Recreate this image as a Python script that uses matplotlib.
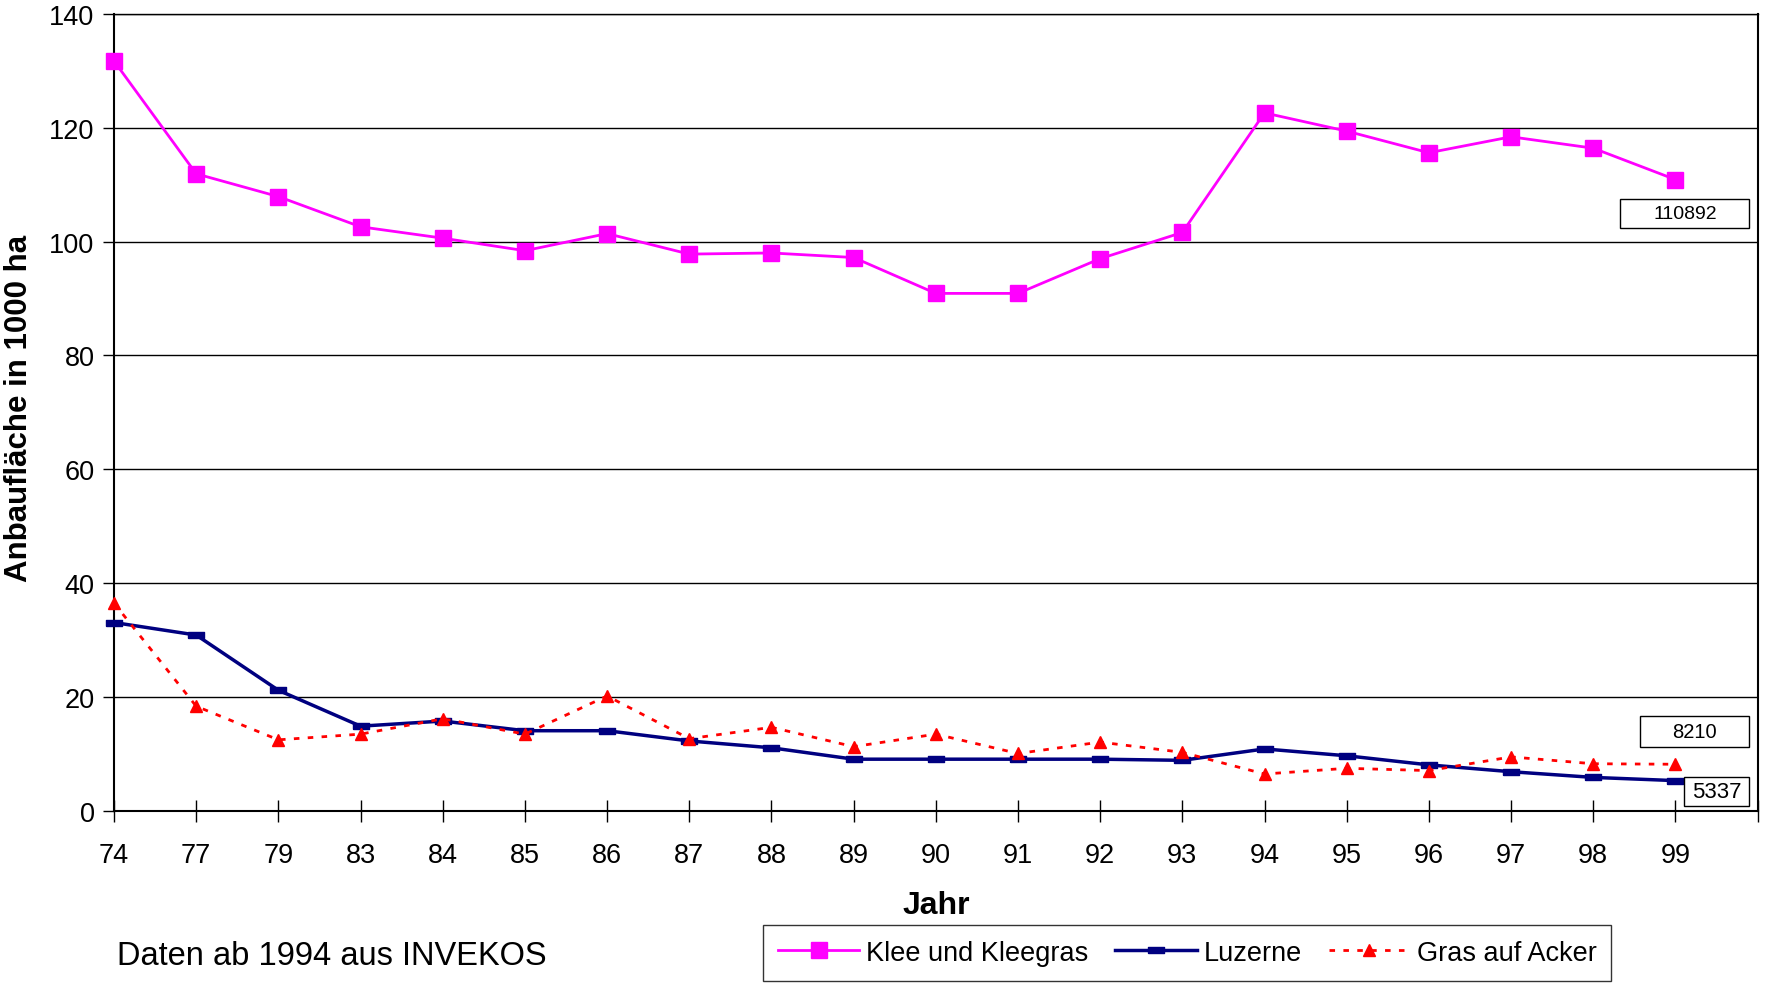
import matplotlib.pyplot as plt
from matplotlib.patches import Rectangle

plt.rcParams['font.family'] = ['Liberation Sans', 'DejaVu Sans']

jahre = ['74', '77', '79', '83', '84', '85', '86', '87', '88', '89',
         '90', '91', '92', '93', '94', '95', '96', '97', '98', '99']
klee = [131.7, 111.9, 107.9, 102.6, 100.6, 98.4, 101.4, 97.8, 98.0, 97.2,
        90.9, 90.9, 97.0, 101.6, 122.6, 119.4, 115.6, 118.4, 116.4, 110.892]
luzerne = [33.1, 30.9, 21.2, 14.9, 15.8, 14.1, 14.1, 12.3, 11.1, 9.1,
           9.1, 9.1, 9.1, 8.9, 10.9, 9.7, 8.1, 6.9, 5.9, 5.337]
gras = [36.5, 18.4, 12.5, 13.5, 16.2, 13.5, 20.2, 12.7, 14.7, 11.3,
        13.5, 10.1, 12.1, 10.3, 6.5, 7.5, 7.1, 9.5, 8.3, 8.21]

x = list(range(len(jahre)))

fig = plt.figure(figsize=(17.68, 9.87), dpi=100)
ax = fig.add_axes([0.0645, 0.1773, 0.9296, 0.8077])

# wide flat marker for Luzerne
dash = [(-1, -0.4), (1, -0.4), (1, 0.4), (-1, 0.4), (-1, -0.4)]

ax.plot(x, klee, color='#FF00FF', lw=2, marker='s', ms=11.5,
        label='Klee und Kleegras', zorder=4, clip_on=False)
ax.plot(x, luzerne, color='#000080', lw=2.5, marker=dash, ms=11,
        label='Luzerne', zorder=3, clip_on=False)
ax.plot(x, gras, color='#FF0000', lw=2, ls=(0, (2, 3)), marker='^', ms=9,
        label='Gras auf Acker', zorder=3, clip_on=False)

ax.set_xlim(0, 20)
ax.set_ylim(0, 140)
ax.set_yticks(range(0, 141, 20))
ax.set_xticks(range(0, 21))
ax.set_xticklabels(jahre + [''])
ax.yaxis.grid(True, color='black', lw=1)
ax.set_axisbelow(True)
ax.tick_params(axis='x', direction='inout', length=16, width=1, pad=14, labelsize=19.5)
ax.tick_params(axis='y', direction='out', length=8, width=1, pad=6, labelsize=19.5)
for s in ['left', 'bottom', 'right']:
    ax.spines[s].set_linewidth(1.5)
ax.spines['top'].set_linewidth(1)

ax.set_xlabel('Jahr', fontsize=23, fontweight='bold', labelpad=16)
ax.set_ylabel('Anbaufläche in 1000 ha', fontsize=22.5, fontweight='bold')
ax.yaxis.set_label_coords(-0.0485, 0.506)

# value boxes at the last year
boxes = [
    (klee[-1], 18.33, 102.4, 1.57, 5.1, 14),
    (gras[-1], 18.57, 11.3, 1.32, 5.3, 14.5),
    (luzerne[-1], 19.11, 0.8, 0.78, 5.1, 16),
]
for v, bx, by, bw, bh, fs in boxes:
    ax.add_patch(Rectangle((bx, by), bw, bh, facecolor='white',
                           edgecolor='black', lw=1, zorder=6, clip_on=False))
    ax.text(bx + bw / 2, by + bh / 2, str(int(round(v * 1000))), fontsize=fs,
            ha='center', va='center', zorder=7)

fig.text(0.066, 0.031, 'Daten ab 1994 aus INVEKOS', fontsize=23.5, va='center')

leg = fig.legend(loc='center', bbox_to_anchor=(0.6715, 0.0335), ncol=3,
                 fontsize=19.5, frameon=True, fancybox=False, edgecolor='black',
                 handlelength=3.0, handletextpad=0.25, columnspacing=1.0,
                 borderpad=0.55, borderaxespad=0)
leg.get_frame().set_linewidth(1)

fig.savefig('out.png', dpi=100)
